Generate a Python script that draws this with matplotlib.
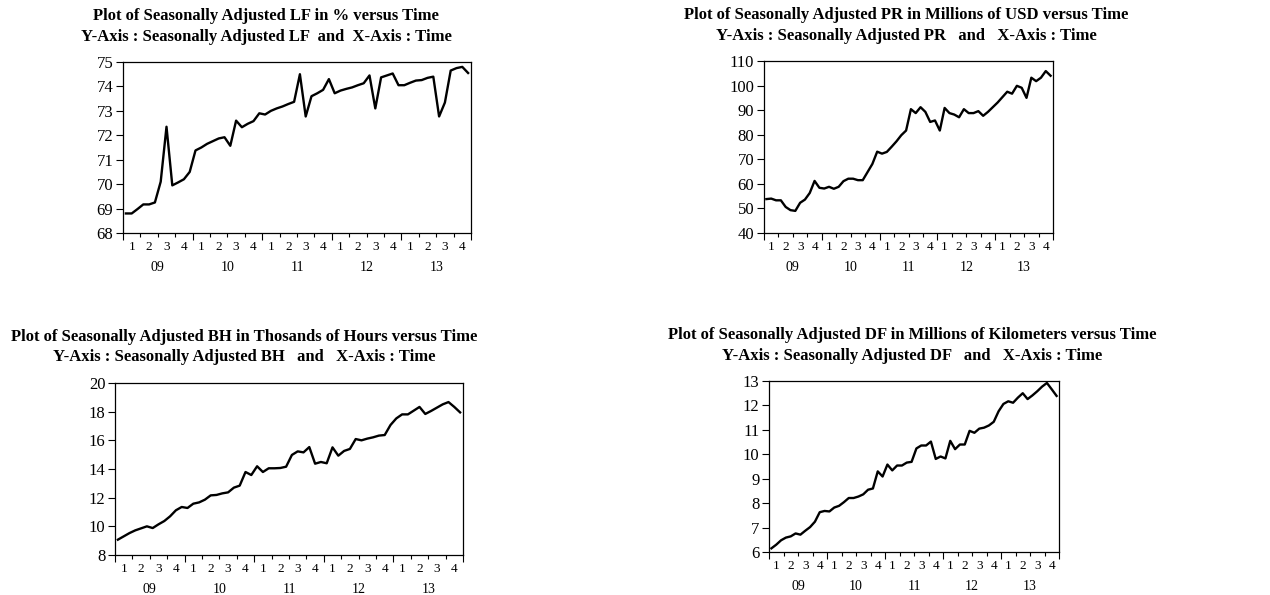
import numpy as np
import matplotlib
matplotlib.use("Agg")
import matplotlib.pyplot as plt

# monthly observations, 2009M01 .. 2013M12
lf = [68.8, 68.8, 68.98, 69.17, 69.17, 69.25, 70.1, 72.35, 69.95, 70.07, 70.2, 70.5,
      71.38, 71.5, 71.65, 71.76, 71.87, 71.92, 71.57, 72.6, 72.33, 72.47, 72.58, 72.9,
      72.85, 73.0, 73.1, 73.18, 73.28, 73.37, 74.5, 72.77, 73.6, 73.72, 73.86, 74.3,
      73.72, 73.83, 73.9, 73.96, 74.05, 74.13, 74.45, 73.1, 74.37, 74.45, 74.53, 74.05,
      74.05, 74.15, 74.24, 74.26, 74.35, 74.4, 72.77, 73.34, 74.65, 74.75, 74.8, 74.55]

pr = [53.8, 54.0, 53.3, 53.3, 50.6, 49.3, 49.0, 52.3, 53.6, 56.3, 61.2, 58.4,
      58.1, 58.8, 58.0, 58.8, 61.1, 62.1, 62.1, 61.5, 61.5, 64.8, 68.1, 73.1,
      72.3, 73.0, 75.1, 77.3, 79.8, 81.7, 90.4, 88.8, 91.2, 89.3, 85.2, 85.8,
      81.7, 90.9, 88.8, 88.2, 87.1, 90.4, 88.8, 88.8, 89.6, 87.7, 89.3, 91.2,
      93.1, 95.3, 97.5, 96.7, 99.9, 99.1, 95.0, 103.2, 101.8, 103.2, 105.9, 104.0]

bh = [9.07, 9.3, 9.53, 9.72, 9.86, 10.0, 9.88, 10.14, 10.37, 10.7, 11.12, 11.35,
      11.28, 11.58, 11.67, 11.86, 12.16, 12.19, 12.3, 12.37, 12.7, 12.84, 13.79, 13.58,
      14.19, 13.79, 14.05, 14.05, 14.07, 14.16, 14.98, 15.23, 15.16, 15.53, 14.37, 14.49,
      14.4, 15.51, 14.93, 15.26, 15.4, 16.09, 16.0, 16.12, 16.21, 16.33, 16.37, 17.07,
      17.53, 17.81, 17.81, 18.07, 18.33, 17.84, 18.05, 18.28, 18.51, 18.67, 18.33, 17.95]

df = [6.15, 6.3, 6.48, 6.59, 6.64, 6.76, 6.71, 6.87, 7.02, 7.24, 7.63, 7.68,
      7.66, 7.82, 7.89, 8.04, 8.21, 8.21, 8.27, 8.36, 8.55, 8.6, 9.3, 9.09,
      9.58, 9.34, 9.54, 9.54, 9.66, 9.69, 10.24, 10.36, 10.36, 10.52, 9.81, 9.91,
      9.83, 10.55, 10.21, 10.4, 10.4, 10.96, 10.88, 11.05, 11.09, 11.18, 11.33, 11.76,
      12.06, 12.17, 12.11, 12.32, 12.5, 12.26, 12.41, 12.58, 12.77, 12.92, 12.66, 12.39]

years = ["09", "10", "11", "12", "13"]
quarters = ["1", "2", "3", "4"]

titles = [
    ("Plot of Seasonally Adjusted LF in % versus Time",
     "Y-Axis : Seasonally Adjusted LF  and  X-Axis : Time"),
    ("Plot of Seasonally Adjusted PR in Millions of USD versus Time",
     "Y-Axis : Seasonally Adjusted PR   and   X-Axis : Time"),
    ("Plot of Seasonally Adjusted BH in Thosands of Hours versus Time",
     "Y-Axis : Seasonally Adjusted BH   and   X-Axis : Time"),
    ("Plot of Seasonally Adjusted DF in Millions of Kilometers versus Time",
     "Y-Axis : Seasonally Adjusted DF   and   X-Axis : Time"),
]
ylims = [(68, 75, 1), (40, 110, 10), (8, 20, 2), (6, 13, 1)]
series = [lf, pr, bh, df]

plt.rcParams['font.family'] = ['Liberation Serif', 'DejaVu Serif']

fig = plt.figure(figsize=(12.7, 5.95), dpi=100)
W, H = 1270.0, 595.0

# axes boxes in pixels: left, top, right, bottom
boxes = [(123, 62, 471, 233), (764, 61, 1053, 233),
         (115, 383, 463, 555), (769, 381, 1059, 552)]
# title centres in pixels: x, y line1, y line2
tpos = [(266, 16, 37), (906, 15, 36), (244, 337, 357), (912, 335, 356)]

for k in range(4):
    l, t, r, b = boxes[k]
    ax = fig.add_axes([l / W, 1 - b / H, (r - l) / W, (b - t) / H])
    y = series[k]
    x = np.arange(len(y)) + 0.5
    ax.plot(x, y, color='black', lw=1.7)
    ax.set_xlim(0, len(y))
    lo, hi, step = ylims[k]
    ax.set_ylim(lo, hi)
    ax.set_yticks(np.arange(lo, hi + step / 2, step))
    ax.tick_params(axis='y', labelsize=12, length=5, width=0.8, pad=2)
    ax.set_xticks(np.arange(0, 61, 12))
    ax.set_xticks(np.arange(0, 61, 3), minor=True)
    ax.set_xticklabels([])
    ax.tick_params(axis='x', which='major', length=5, width=0.8)
    ax.tick_params(axis='x', which='minor', length=3, width=0.8)
    for s in ax.spines.values():
        s.set_linewidth(0.9)
    for yi, yr in enumerate(years):
        for qi, q in enumerate(quarters):
            ax.annotate(q, xy=(yi * 12 + qi * 3 + 1.5, 0),
                        xycoords=('data', 'axes fraction'),
                        xytext=(0, -6), textcoords='offset points',
                        ha='center', va='top', fontsize=9.5)
        ax.annotate(yr, xy=(yi * 12 + 6, 0),
                    xycoords=('data', 'axes fraction'),
                    xytext=(0, -20), textcoords='offset points',
                    ha='center', va='top', fontsize=10)
    tx, ty1, ty2 = tpos[k]
    fig.text(tx / W, 1 - ty1 / H, titles[k][0], ha='center', va='center',
             fontsize=12, fontweight='bold')
    fig.text(tx / W, 1 - ty2 / H, titles[k][1], ha='center', va='center',
             fontsize=12, fontweight='bold')

fig.savefig('out.png', dpi=100)
